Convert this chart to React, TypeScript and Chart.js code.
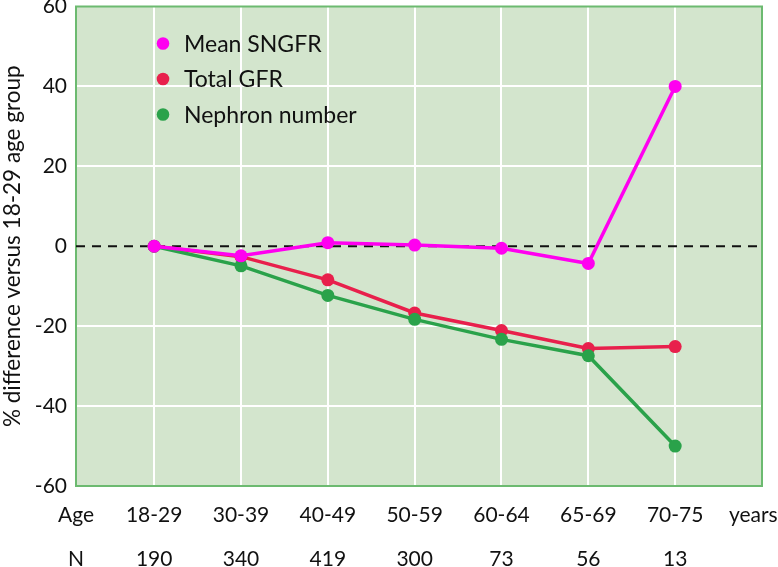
import React, { useEffect, useRef } from "react";
import { Chart, registerables } from "chart.js";

Chart.register(...registerables);

const ageGroups = ["18-29", "30-39", "40-49", "50-59", "60-64", "65-69", "70-75"];
const sampleSizes = ["190", "340", "419", "300", "73", "56", "13"];
const meanSNGFR = [0, -2.4, 0.9, 0.3, -0.5, -4.3, 40];
const totalGFR = [0, -2.6, -8.4, -16.7, -21.1, -25.6, -25.1];
const nephronNumber = [0, -4.9, -12.3, -18.3, -23.3, -27.4, -50];
const yTicks = [-60, -40, -20, 0, 20, 40, 60];

const FONT = "Lato, 'Noto Sans', sans-serif";
const BG = "#d3e5cd";
const FRAME = "#6cba70";
const MAGENTA = "#ff00f0";
const RED = "#e8204c";
const GREEN = "#2aa24a";

const toPoints = (vals: number[]) => vals.map((v, i) => ({ x: i, y: v }));

const areaPlugin = {
  id: "areaBg",
  beforeDraw(chart: any) {
    const { ctx, chartArea } = chart;
    const { left, top, right, bottom } = chartArea;
    ctx.save();
    ctx.fillStyle = BG;
    ctx.fillRect(left, top, right - left, bottom - top);
    ctx.restore();
  },
  beforeDatasetsDraw(chart: any) {
    const { ctx, chartArea } = chart;
    const { left, top, right, bottom } = chartArea;
    ctx.save();
    ctx.strokeStyle = FRAME;
    ctx.lineWidth = 2;
    ctx.strokeRect(left, top, right - left, bottom - top);
    ctx.restore();
  },
};

const legendPlugin = {
  id: "insideLegend",
  afterDatasetsDraw(chart: any) {
    const { ctx, chartArea } = chart;
    const items = chart.data.datasets.filter((d: any) => !d.isBaseline);
    ctx.save();
    ctx.font = `23px ${FONT}`;
    ctx.textBaseline = "middle";
    ctx.textAlign = "left";
    items.forEach((d: any, i: number) => {
      const y = chartArea.top + 37 + i * 35.5;
      const x = chartArea.left + 87;
      ctx.fillStyle = d.pointBackgroundColor;
      ctx.beginPath();
      ctx.arc(x, y, 6.3, 0, Math.PI * 2);
      ctx.fill();
      ctx.fillStyle = "#111";
      ctx.fillText(d.label, x + 21, y + 1);
    });
    ctx.restore();
  },
};

export default function App() {
  const ref = useRef<HTMLCanvasElement | null>(null);

  useEffect(() => {
    if (!ref.current) return;
    const lineDs = (label: string, vals: number[], color: string, order: number) => ({
      label,
      data: toPoints(vals),
      borderColor: color,
      backgroundColor: color,
      pointBackgroundColor: color,
      pointBorderWidth: 0,
      pointRadius: 6.5,
      borderWidth: 3.5,
      order,
    });
    const chart = new Chart(ref.current, {
      type: "line",
      data: {
        datasets: [
          lineDs("Mean SNGFR", meanSNGFR, MAGENTA, 0),
          lineDs("Total GFR", totalGFR, RED, 2),
          lineDs("Nephron number", nephronNumber, GREEN, 1),
          {
            label: "baseline",
            isBaseline: true,
            data: [
              { x: -0.9, y: 0 },
              { x: 7, y: 0 },
            ],
            borderColor: "#111",
            borderWidth: 2,
            borderDash: [9, 7],
            pointRadius: 0,
            order: 3,
          } as any,
        ],
      },
      options: {
        responsive: false,
        animation: false,
        layout: { padding: { left: 0, top: 3, right: 16, bottom: 0 } },
        plugins: { legend: { display: false }, tooltip: { enabled: false } },
        scales: {
          x: {
            type: "linear",
            min: -0.9,
            max: 7,
            afterBuildTicks: (scale: any) => {
              scale.ticks = [-0.9, 0, 1, 2, 3, 4, 5, 6, 6.9].map((v) => ({ value: v }));
            },
            afterFit: (scale: any) => {
              scale.height = 81;
              scale.paddingLeft = 0;
              scale.paddingRight = 0;
            },
            grid: {
              color: (c: any) => {
                const v = c.tick ? c.tick.value : NaN;
                return Number.isInteger(v) && v >= 0 && v <= 6 ? "#ffffff" : "rgba(0,0,0,0)";
              },
              lineWidth: 2,
              drawTicks: false,
            },
            border: { display: false },
            ticks: {
              autoSkip: false,
              maxRotation: 0,
              minRotation: 0,
              padding: 7,
              color: "#111",
              font: { family: FONT, size: 21, lineHeight: 2.1 },
              callback: (value: any) => {
                const v = Number(value);
                if (Math.abs(v + 0.9) < 1e-6) return ["Age", "N"];
                if (Math.abs(v - 6.9) < 1e-6) return ["years", ""];
                const i = Math.round(v);
                return [ageGroups[i], sampleSizes[i]];
              },
            },
          },
          y: {
            type: "linear",
            min: -60,
            max: 60,
            afterBuildTicks: (scale: any) => {
              scale.ticks = yTicks.map((v) => ({ value: v }));
            },
            afterFit: (scale: any) => {
              scale.width = 76;
              scale.paddingTop = 0;
              scale.paddingBottom = 0;
            },
            grid: {
              color: (c: any) => {
                const v = c.tick ? c.tick.value : NaN;
                return v === 0 || Math.abs(v) === 60 ? "rgba(0,0,0,0)" : "#ffffff";
              },
              lineWidth: 2,
              drawTicks: false,
            },
            border: { display: false },
            ticks: {
              padding: 9,
              color: "#111",
              font: { family: FONT, size: 21 },
              callback: (value: any) => String(value),
            },
            title: {
              display: true,
              text: "% difference versus 18-29 age group",
              color: "#111",
              padding: 0,
              font: { family: FONT, size: 22.5, lineHeight: 1.15 },
            },
          },
        },
      },
      plugins: [areaPlugin, legendPlugin],
    } as any);
    return () => chart.destroy();
  }, []);

  return (
    <div style={{ position: "absolute", left: 0, top: 0, width: 778, height: 567 }}>
      <canvas ref={ref} width={778} height={567} style={{ display: "block" }} />
    </div>
  );
}
